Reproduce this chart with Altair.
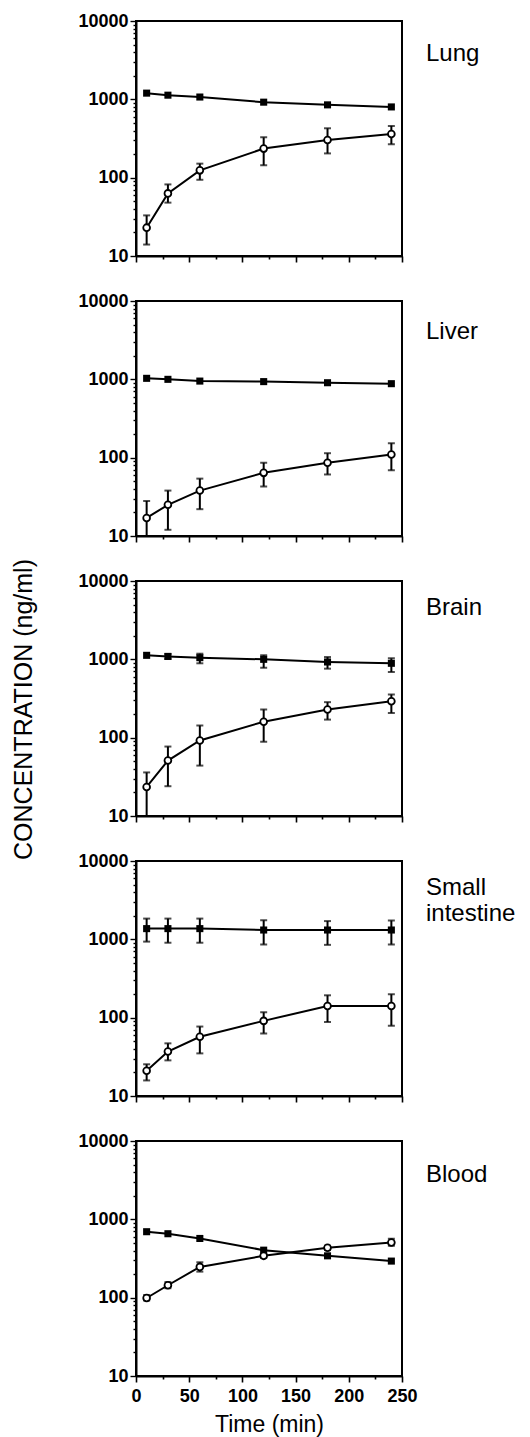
import altair as alt
import pandas as pd

# ---------------- data ----------------
time = [10, 30, 60, 120, 180, 240]

lung_filled = [1200, 1130, 1070, 920, 850, 800]
lung_filled_lo = [None, None, None, None, None, None]
lung_filled_hi = [None, None, None, None, None, None]
lung_open = [23, 63, 124, 235, 302, 360]
lung_open_lo = [14, 48, 94, 144, 204, 268]
lung_open_hi = [33, 82, 151, 327, 427, 458]

liver_filled = [1030, 1000, 950, 935, 905, 880]
liver_filled_lo = [None, None, None, None, None, None]
liver_filled_hi = [None, None, None, None, None, None]
liver_open = [17, 25, 38, 64, 86, 110]
liver_open_lo = [10, 12, 22, 43, 61, 69]
liver_open_hi = [28, 38, 54, 86, 114, 153]

brain_filled = [1125, 1090, 1050, 1000, 925, 890]
brain_filled_lo = [None, 1010, 890, 780, 760, 690]
brain_filled_hi = [None, 1170, 1180, 1125, 1070, 1030]
brain_open = [23.5, 51, 92, 160, 229, 292]
brain_open_lo = [10, 24, 44, 89, 170, 207]
brain_open_hi = [36, 77, 143, 229, 284, 356]

si_filled = [1370, 1370, 1370, 1315, 1315, 1315]
si_filled_lo = [935, 905, 905, 860, 850, 860]
si_filled_hi = [1840, 1840, 1840, 1750, 1710, 1740]
si_open = [21, 37, 57, 91, 141, 141]
si_open_lo = [15.8, 28.5, 35, 63, 88, 79]
si_open_hi = [25.4, 47, 77, 117, 193, 199]

blood_filled = [695, 655, 570, 404, 342, 293]
blood_filled_lo = [None, None, None, None, None, None]
blood_filled_hi = [None, None, None, None, None, None]
blood_open = [99, 144, 247, 342, 433, 507]
blood_open_lo = [92, 132, 215, 322, 405, 460]
blood_open_hi = [108, 158, 283, 362, 460, 565]

organs = ["Lung", "Liver", "Brain", "Small intestine", "Blood"]
organ_labels = ["Lung", "Liver", "Brain", "Small\nintestine", "Blood"]

series_data = {
    "Lung": (lung_filled, lung_filled_lo, lung_filled_hi, lung_open, lung_open_lo, lung_open_hi),
    "Liver": (liver_filled, liver_filled_lo, liver_filled_hi, liver_open, liver_open_lo, liver_open_hi),
    "Brain": (brain_filled, brain_filled_lo, brain_filled_hi, brain_open, brain_open_lo, brain_open_hi),
    "Small intestine": (si_filled, si_filled_lo, si_filled_hi, si_open, si_open_lo, si_open_hi),
    "Blood": (blood_filled, blood_filled_lo, blood_filled_hi, blood_open, blood_open_lo, blood_open_hi),
}

rows = []
for organ in organs:
    f, flo, fhi, o, olo, ohi = series_data[organ]
    for i, t in enumerate(time):
        rows.append({"organ": organ, "time": t, "series": "filled", "mean": f[i], "lo": flo[i], "hi": fhi[i]})
        rows.append({"organ": organ, "time": t, "series": "open", "mean": o[i], "lo": olo[i], "hi": ohi[i]})
df = pd.DataFrame(rows)

FONT = "Liberation Sans"
W, H = 266, 235
x_values = list(range(0, 251, 25))
y_values = [m * 10 ** e for e in range(1, 4) for m in range(1, 10)] + [10000]
major_y = "indexof([10, 100, 1000, 10000], datum.value) >= 0"
label_y = {"Lung": 40, "Liver": 38, "Brain": 34, "Small intestine": 34, "Blood": 41}


def make_panel(organ, label, bottom=False, ytitle=False):
    d = df[df.organ == organ]
    x_axis = alt.Axis(
        values=x_values,
        labels=bottom,
        labelExpr="datum.value % 50 === 0 ? datum.label : ''",
        labelFlush=False,
        labelOverlap=False,
        labelFont=FONT, labelFontSize=18, labelFontWeight="bold", labelColor="black",
        labelPadding=5,
        tickSize={"condition": {"test": "datum.value % 50 === 0", "value": 6}, "value": 3},
        tickWidth=1.6, tickColor="black",
        domainColor="black", domainWidth=2,
        grid=False,
        title="Time (min)" if bottom else None,
        titleFont=FONT, titleFontSize=23, titleFontWeight="normal", titleColor="black",
        titlePadding=8,
    )
    y_kwargs = dict(
        values=y_values,
        format="d",
        labelExpr=major_y + " ? datum.label : ''",
        labelFlush=False,
        labelOverlap=False,
        labelFont=FONT, labelFontSize=18, labelFontWeight="bold", labelColor="black",
        labelPadding=2,
        tickSize={"condition": {"test": major_y, "value": 6}, "value": 3},
        tickWidth=1.4, tickColor="black",
        domainColor="black", domainWidth=2,
        grid=False,
    )
    if ytitle:
        y_kwargs.update(
            title="CONCENTRATION (ng/ml)",
            titleFont=FONT, titleFontSize=25, titleFontWeight="normal", titleColor="black",
            titleAngle=270, titleAlign="center", titleBaseline="alphabetic",
            titleX=-105, titleY=128,
        )
    else:
        y_kwargs.update(title=None)
    y_axis = alt.Axis(**y_kwargs)

    xs = alt.Scale(domain=[0, 250], nice=False, zero=False)
    ys = alt.Scale(type="log", domain=[10, 10000], nice=False)

    base = alt.Chart(d)
    lines = base.mark_line(color="black", strokeWidth=2).encode(
        x=alt.X("time:Q", scale=xs, axis=x_axis),
        y=alt.Y("mean:Q", scale=ys, axis=y_axis),
        detail="series:N",
    )
    err = base.transform_filter("isValid(datum.lo) && isFinite(datum.lo)").mark_errorbar(
        ticks=True, size=7, thickness=2, color="black"
    ).encode(
        x=alt.X("time:Q", scale=xs, axis=x_axis),
        y=alt.Y("lo:Q", scale=ys, axis=y_axis),
        y2="hi:Q",
    )
    filled_pts = base.transform_filter("datum.series === 'filled'").mark_point(
        shape="square", filled=True, size=50, color="black", opacity=1
    ).encode(
        x=alt.X("time:Q", scale=xs, axis=x_axis),
        y=alt.Y("mean:Q", scale=ys, axis=y_axis),
    )
    open_pts = base.transform_filter("datum.series === 'open'").mark_point(
        shape="circle", filled=False, fill="white", fillOpacity=1, stroke="black",
        strokeWidth=1.8, size=46, opacity=1
    ).encode(
        x=alt.X("time:Q", scale=xs, axis=x_axis),
        y=alt.Y("mean:Q", scale=ys, axis=y_axis),
    )
    name = alt.Chart(pd.DataFrame({"label": [label]})).mark_text(
        align="left", baseline="alphabetic", font=FONT, fontSize=24, lineHeight=26,
        lineBreak="\n", color="black"
    ).encode(
        x=alt.value(W + 24),
        y=alt.value(label_y[organ]),
        text="label:N",
    )
    return alt.layer(lines, err, filled_pts, open_pts, name).properties(width=W, height=H)


panels = [
    make_panel(organ, lab, bottom=(organ == "Blood"), ytitle=(organ == "Brain"))
    for organ, lab in zip(organs, organ_labels)
]

chart = alt.vconcat(*panels, spacing=45, bounds="flush").properties(
    padding={"left": 1, "top": 3, "right": 0, "bottom": 0},
    background="white",
).configure_view(stroke="black", strokeWidth=2)

chart.save("out.html", embed_options={"renderer": "svg", "actions": False})
